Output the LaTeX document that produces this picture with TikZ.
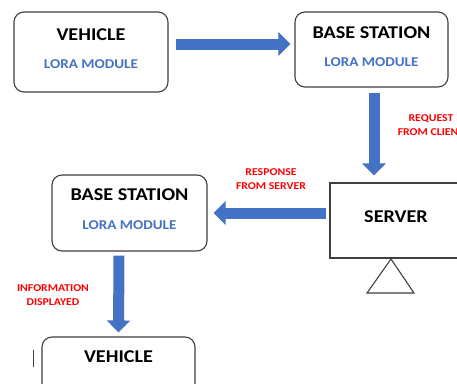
\documentclass[tikz,border=0pt]{standalone}
\usepackage{fontspec}
\setmainfont{Carlito}[FakeStretch=1.12]
\usetikzlibrary{arrows.meta}
\definecolor{loblue}{HTML}{4472C4}
\definecolor{arrowblue}{HTML}{4472C4}
\definecolor{edgegray}{HTML}{404040}
\begin{document}
\begin{tikzpicture}[x=1pt,y=-1pt,
    box/.style={draw=edgegray,line width=1.1pt,rounded corners=10pt,inner sep=0pt},
    title/.style={font=\fontsize{18}{20}\selectfont\bfseries,inner sep=0pt},
    sub/.style={font=\fontsize{13.5}{15}\selectfont\bfseries,text=loblue,inner sep=0pt},
    note/.style={font=\fontsize{10.5}{13.5}\selectfont\bfseries,text=red,align=center,inner sep=0pt},
    bigarrow/.style={draw=arrowblue,line width=11pt,-{Triangle[length=12pt,width=23pt]}}]
      \clip (0,0) rectangle (457,383);
      \fill[white] (0,0) rectangle (457,383);
      % boxes
      \node[box,minimum width=154pt,minimum height=80pt] (veh1) at (91,52) {};
      \node[box,minimum width=153pt,minimum height=75pt] (base1) at (371.5,49.5) {};
      \node[box,rounded corners=0pt,minimum width=132pt,minimum height=75pt] (server) at (396,220.5) {};
      \node[box,minimum width=155pt,minimum height=76pt] (base2) at (129.5,213) {};
      \node[box,minimum width=153pt,minimum height=78pt] (veh2) at (118.5,376) {};
      % texts
      \node[title] (veh1t) at ([yshift=17pt]veh1.center) {VEHICLE};
      \node[sub] (veh1s) at ([yshift=-12pt]veh1.center) {LORA MODULE};
      \node[title] (base1t) at ([yshift=16.5pt]base1.center) {BASE STATION};
      \node[sub] (base1s) at ([yshift=-12.5pt]base1.center) {LORA MODULE};
      \node[title] (servert) at ([yshift=3.5pt]server.center) {SERVER};
      \node[title] (base2t) at ([yshift=18pt]base2.center) {BASE STATION};
      \node[sub] (base2s) at ([yshift=-12pt]base2.center) {LORA MODULE};
      \node[title] (veh2t) at ([yshift=19pt]veh2.center) {VEHICLE};
      \node[note] (req) at (431,125) {REQUEST\\FROM CLIENT};
      \node[note] (resp) at (271,179) {RESPONSE\\FROM SERVER};
      \node[note] (info) at (53,295) {INFORMATION\\DISPLAYED};
      % stand
      \draw[edgegray,line width=1.1pt] (391,259) -- (367,293) -- (414,293) -- cycle;
      \draw[edgegray,line width=0.8pt] (33,350) -- (33,367);
      % arrows
      \draw[bigarrow] ([xshift=7pt,yshift=8pt]veh1.east) to ([xshift=-4pt,yshift=5.5pt]base1.west);
      \draw[bigarrow] ([xshift=2.5pt,yshift=-5pt]base1.south) to ([xshift=-22pt,yshift=7pt]server.north);
      \draw[bigarrow] ([xshift=-3pt,yshift=7.5pt]server.west) to ([xshift=6pt]base2.east);
      \draw[bigarrow] ([xshift=-10.5pt,yshift=-4pt]base2.south) to ([yshift=4pt]veh2.north);
    \end{tikzpicture}
\end{document}
